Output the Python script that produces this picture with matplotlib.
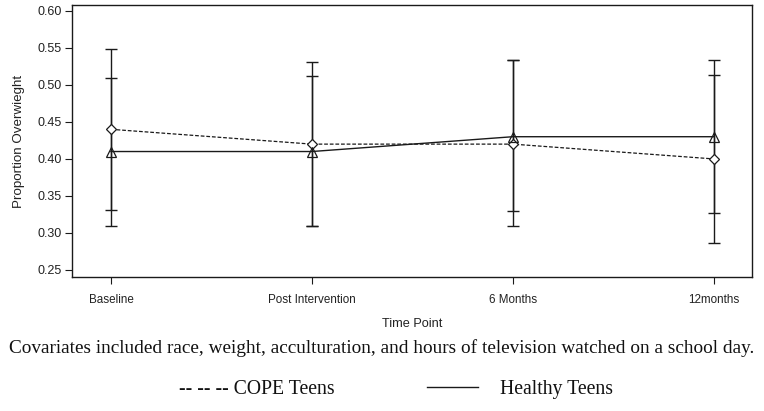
import matplotlib
matplotlib.use("Agg")
import matplotlib.pyplot as plt
from matplotlib.lines import Line2D

# Data
time_points = ["Baseline", "Post Intervention", "6 Months", "12months"]
cope_mean = [0.44, 0.42, 0.42, 0.40]
cope_lower = [0.331, 0.310, 0.309, 0.287]
cope_upper = [0.548, 0.531, 0.533, 0.514]
healthy_mean = [0.41, 0.41, 0.43, 0.43]
healthy_lower = [0.310, 0.309, 0.329, 0.327]
healthy_upper = [0.509, 0.512, 0.533, 0.533]
y_ticks = [0.25, 0.30, 0.35, 0.40, 0.45, 0.50, 0.55, 0.60]

x = list(range(len(time_points)))
sans = "Liberation Sans"
serif = "Liberation Serif"

fig = plt.figure(figsize=(7.64, 4.11), dpi=100)
ax = fig.add_axes([0.0942, 0.326, 0.8900, 0.662])

ink = "#1a1a1a"

# CI bars
ax.errorbar(x, cope_mean,
            yerr=[[m - l for m, l in zip(cope_mean, cope_lower)],
                  [u - m for m, u in zip(cope_mean, cope_upper)]],
            fmt="none", ecolor=ink, elinewidth=1.0, capsize=4.3, capthick=1.0)
ax.errorbar(x, healthy_mean,
            yerr=[[m - l for m, l in zip(healthy_mean, healthy_lower)],
                  [u - m for m, u in zip(healthy_mean, healthy_upper)]],
            fmt="none", ecolor=ink, elinewidth=1.0, capsize=4.3, capthick=1.0)

# mean lines
ax.plot(x, cope_mean, linestyle=(0, (3, 1.5)), color=ink, linewidth=0.9,
        marker="D", markersize=5, markerfacecolor="white", markeredgecolor=ink,
        markeredgewidth=0.9)
ax.plot(x, healthy_mean, linestyle="-", color=ink, linewidth=1.0,
        marker="^", markersize=7.5, markerfacecolor="none", markeredgecolor=ink,
        markeredgewidth=0.9)

ax.set_xlim(-0.194, 3.19)
ax.set_ylim(0.2405, 0.608)
ax.set_xticks(x)
ax.set_xticklabels(time_points, fontfamily=sans, fontsize=8.4)
ax.set_yticks(y_ticks)
ax.set_yticklabels([f"{v:.2f}" for v in y_ticks], fontfamily=sans, fontsize=9)
ax.tick_params(axis="both", direction="out", length=5, width=0.8, colors=ink,
               labelcolor="#222222")
ax.tick_params(axis="x", pad=7)
ax.tick_params(axis="y", pad=2.5)
for s in ax.spines.values():
    s.set_linewidth(1.0)
    s.set_color(ink)

ax.set_xlabel("Time Point", fontfamily=sans, fontsize=9.2, color="#222222", labelpad=9)
ax.set_ylabel("Proportion Overwieght", fontfamily=sans, fontsize=9.6,
              color="#222222", labelpad=9)

# caption and legend
fig.text(0.5, 1 - 348 / 411,
         "Covariates included race, weight, acculturation, and hours of television watched on a school day.",
         ha="center", va="center", fontfamily=serif, fontsize=13.9, color="#111111")
leg_y = 1 - 389 / 411
fig.text(179 / 764, leg_y, "-- -- -- COPE Teens", ha="left", va="center",
         fontfamily=serif, fontsize=14.2, color="#111111")
fig.add_artist(Line2D([427 / 764, 478 / 764], [leg_y + 0.006, leg_y + 0.006],
                      transform=fig.transFigure, color=ink, linewidth=1.0))
fig.text(500 / 764, leg_y, "Healthy Teens", ha="left", va="center",
         fontfamily=serif, fontsize=14.2, color="#111111")

fig.savefig("out.png", dpi=100)
